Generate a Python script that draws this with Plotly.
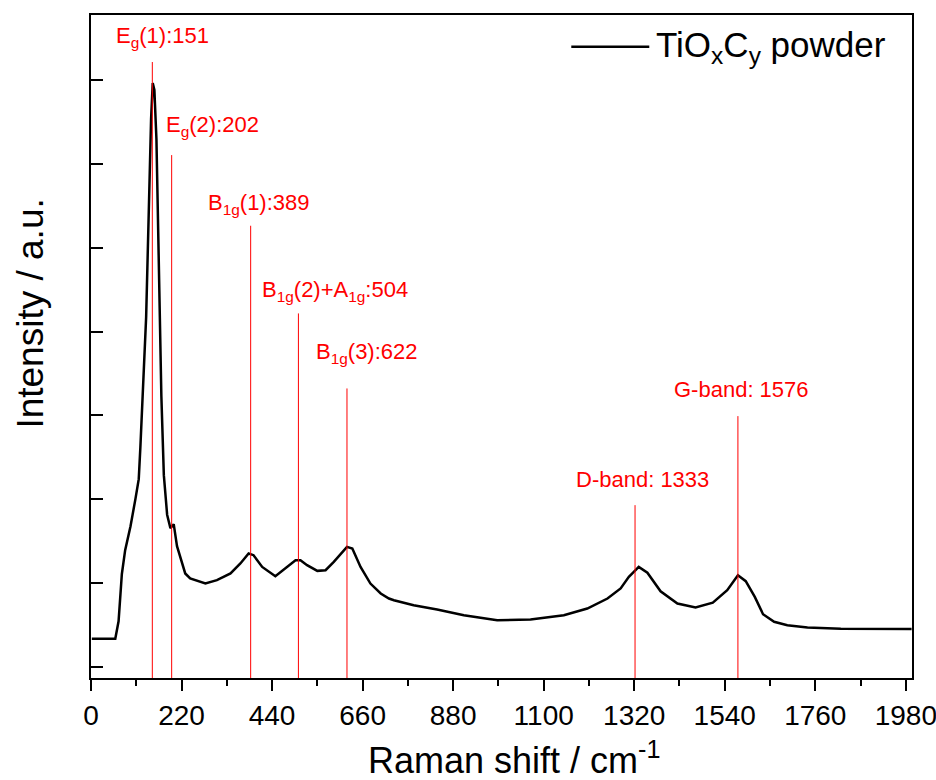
import plotly.graph_objects as go

# ---- data ----
raman_shift = [2, 59, 67, 75, 83, 96, 108, 116, 120, 126, 134, 140, 146, 150, 154, 159, 164,
               171, 177, 185, 193, 201, 209, 221, 229, 241, 278, 306, 339, 363, 383, 395, 416,
               448, 472, 497, 509, 525, 550, 570, 590, 622, 635, 655, 679, 695, 704, 724, 736,
               784, 841, 906, 987, 1068, 1149, 1206, 1255, 1287, 1307, 1319, 1331, 1352, 1384,
               1425, 1469, 1511, 1546, 1572, 1591, 1613, 1633, 1660, 1692, 1741, 1822, 1994]
intensity = [337, 337, 545, 1109, 1393, 1679, 2005, 2240, 2622, 3230, 4173, 5354, 6536, 6965,
             6882, 6297, 4882, 3230, 2288, 1816, 1655, 1703, 1440, 1234, 1115, 1055, 995, 1035,
             1115, 1234, 1353, 1333, 1193, 1082, 1174, 1273, 1273, 1214, 1146, 1154, 1253, 1432,
             1413, 1193, 995, 915, 876, 816, 796, 736, 685, 617, 557, 566, 617, 697, 816, 936,
             1074, 1134, 1193, 1124, 903, 757, 709, 766, 915, 1094, 1023, 835, 629, 539, 498,
             470, 456, 452]

peak_positions = [149, 196, 388, 504, 622, 1322, 1572]
peak_line_tops = [7216, 6106, 5263, 4217, 3322, 1930, 2992]
peak_labels = ["E<sub>g</sub>(1):151", "E<sub>g</sub>(2):202", "B<sub>1g</sub>(1):389",
               "B<sub>1g</sub>(2)+A<sub>1g</sub>:504", "B<sub>1g</sub>(3):622",
               "D-band: 1333", "G-band: 1576"]

x_tick_values = [0, 220, 440, 660, 880, 1100, 1320, 1540, 1760, 1980]
series_name = "TiO<sub>x</sub>C<sub>y</sub> powder"
x_title = "Raman shift / cm<sup>-1</sup>"
y_title = "Intensity / a.u."

# ---- layout constants ----
X_RANGE = [0, 1995]
Y_RANGE = [-132, 7777]
label_xshift = [10, 41, 8, 37, 20, 7, 4]
label_yshift = [9, 13, 6, 6, 19, 11, 12]

RED = "#ff0000"
FONT = "Liberation Sans, Arial, sans-serif"

fig = go.Figure()
fig.add_trace(go.Scatter(x=raman_shift, y=intensity, mode="lines", name=series_name,
                         line=dict(color="black", width=2.5), showlegend=False))

for pos, top, lab, xs, ys in zip(peak_positions, peak_line_tops, peak_labels,
                                 label_xshift, label_yshift):
    fig.add_shape(type="line", xref="x", yref="y", x0=pos, x1=pos, y0=Y_RANGE[0], y1=top,
                  line=dict(color=RED, width=1))
    fig.add_annotation(x=pos, y=top, xref="x", yref="y", text=lab, showarrow=False,
                       xanchor="center", yanchor="bottom", xshift=xs, yshift=ys,
                       font=dict(family=FONT, size=22, color=RED))

# manual legend (long line sample)
fig.add_shape(type="line", xref="paper", yref="paper", x0=0.585, x1=0.68, y0=0.952, y1=0.952,
              line=dict(color="black", width=2.5))
fig.add_annotation(x=0.686, y=0.952, xref="paper", yref="paper", text=series_name,
                   showarrow=False, xanchor="left", yanchor="middle",
                   font=dict(family=FONT, size=35, color="black"))

# axis titles
fig.add_annotation(x=0.515, y=-0.121, xref="paper", yref="paper", text=x_title,
                   showarrow=False, xanchor="center", yanchor="middle",
                   font=dict(family=FONT, size=36, color="black"))
fig.add_annotation(x=-0.074, y=0.55, xref="paper", yref="paper", text=y_title,
                   showarrow=False, xanchor="center", yanchor="middle", textangle=-90,
                   font=dict(family=FONT, size=37, color="black"))

fig.update_layout(
    width=936, height=780,
    margin=dict(l=91, r=24, t=15, b=102),
    paper_bgcolor="white", plot_bgcolor="white",
    font=dict(family=FONT, color="black"),
)
fig.update_xaxes(range=X_RANGE, tickvals=x_tick_values, ticks="outside", ticklen=11,
                 tickwidth=2, tickcolor="black", showline=True, linewidth=2,
                 linecolor="black", mirror=True, showgrid=False, zeroline=False,
                 automargin=False, ticklabeloverflow="allow",
                 tickfont=dict(family=FONT, size=28),
                 minor=dict(dtick=110, ticks="outside", ticklen=6, tickwidth=2, tickcolor="black"))
fig.update_yaxes(range=Y_RANGE, tick0=0, dtick=1000, ticks="inside", ticklen=12,
                 tickwidth=2, tickcolor="black", showticklabels=False, showline=True,
                 linewidth=2, linecolor="black", mirror=True, showgrid=False, zeroline=False,
                 automargin=False)

fig.write_html("out.html", config={"displayModeBar": False},
               post_script="document.body.style.margin='0';document.body.style.padding='0';")
